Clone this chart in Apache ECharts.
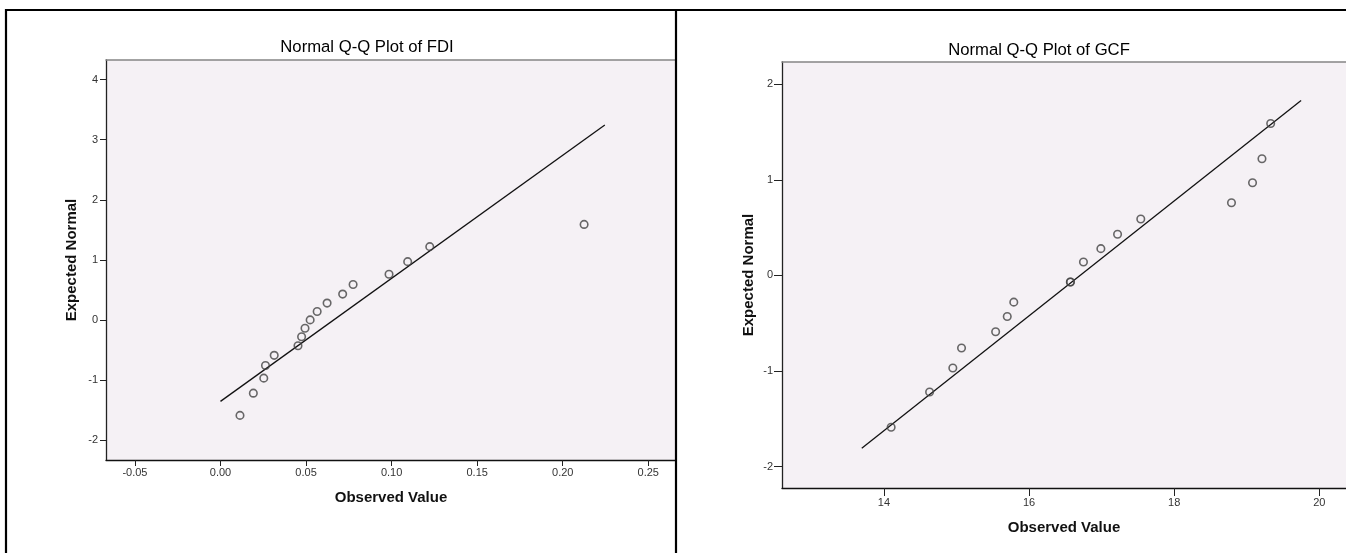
<!DOCTYPE html>
<html><head><meta charset="utf-8">
<script src="https://cdn.jsdelivr.net/npm/echarts@6/dist/echarts.min.js"></script>
<style>html,body{margin:0;padding:0;background:#fff}#c{width:1346px;height:553px}</style>
</head><body><div id="c"></div>
<script>
// ---- data ----
const fdiObserved = [0.0114, 0.0192, 0.0253, 0.0263, 0.0314, 0.0453, 0.0474, 0.0494, 0.0524, 0.0565, 0.0623, 0.0714, 0.0775, 0.0985, 0.1094, 0.1223, 0.2125];
const fdiExpected = [-1.59, -1.22, -0.97, -0.76, -0.59, -0.43, -0.28, -0.14, 0.00, 0.14, 0.28, 0.43, 0.59, 0.76, 0.97, 1.22, 1.59];
const fdiLineX = [0.000, 0.2246];
const fdiLineY = [-1.357, 3.247];
const fdiXTicks = [-0.05, 0.00, 0.05, 0.10, 0.15, 0.20, 0.25];
const fdiYTicks = [-2, -1, 0, 1, 2, 3, 4];

const gcfObserved = [14.10, 14.63, 14.95, 15.07, 15.54, 15.70, 15.79, 16.57, 16.57, 16.75, 16.99, 17.22, 17.54, 18.79, 19.08, 19.21, 19.33];
const gcfExpected = [-1.59, -1.22, -0.97, -0.76, -0.59, -0.43, -0.28, -0.07, -0.07, 0.14, 0.28, 0.43, 0.59, 0.76, 0.97, 1.22, 1.59];
const gcfLineX = [13.695, 19.749];
const gcfLineY = [-1.808, 1.829];
const gcfXTicks = [14, 16, 18, 20];
const gcfYTicks = [-2, -1, 0, 1, 2];

const chartTitles = ['Normal Q-Q Plot of FDI', 'Normal Q-Q Plot of GCF'];
const xAxisName = 'Observed Value';
const yAxisName = 'Expected Normal';

// ---- chart ----
const FONT = '"Liberation Sans", Arial, sans-serif';
const pairs = (xs, ys) => xs.map((x, i) => [x, ys[i]]);

function bottomAxis(grid, min, max, ticks, fmt, tickLen, margin, nameGap) {
  return {
    type: 'value', gridIndex: grid, position: 'bottom', min: min, max: max,
    name: xAxisName, nameLocation: 'middle', nameGap: nameGap,
    nameTextStyle: {fontFamily: FONT, fontSize: 15, fontWeight: 'bold', color: '#111'},
    axisLine: {show: true, onZero: false, lineStyle: {color: '#111', width: 1.3}},
    axisTick: {show: true, length: tickLen, customValues: ticks, lineStyle: {color: '#222', width: 1}},
    axisLabel: {show: true, customValues: ticks, margin: margin, formatter: fmt,
      fontFamily: FONT, fontSize: 11, color: '#333'},
    splitLine: {show: false}
  };
}
function topBorder(grid, min, max) {
  return {
    type: 'value', gridIndex: grid, position: 'top', min: min, max: max,
    axisLine: {show: true, onZero: false, lineStyle: {color: '#858585', width: 1.6}},
    axisTick: {show: false}, axisLabel: {show: false}, splitLine: {show: false}
  };
}
function leftAxis(grid, min, max, ticks, tickLen, margin, nameGap) {
  return {
    type: 'value', gridIndex: grid, position: 'left', min: min, max: max,
    name: yAxisName, nameLocation: 'middle', nameGap: nameGap,
    nameTextStyle: {fontFamily: FONT, fontSize: 15, fontWeight: 'bold', color: '#111'},
    axisLine: {show: true, onZero: false, lineStyle: {color: '#222', width: 1.3}},
    axisTick: {show: true, length: tickLen, customValues: ticks, lineStyle: {color: '#222', width: 1}},
    axisLabel: {show: true, customValues: ticks, margin: margin, formatter: v => String(Math.round(v)),
      fontFamily: FONT, fontSize: 11, color: '#333'},
    splitLine: {show: false}
  };
}

const pointStyle = {color: 'rgba(0,0,0,0)', borderColor: '#444444', borderWidth: 1.6};

const option = {
  animation: false,
  backgroundColor: '#ffffff',
  title: [
    {text: chartTitles[0], left: 367, top: 39, textAlign: 'center', padding: 0,
     textStyle: {fontFamily: FONT, fontSize: 16.7, fontWeight: 'normal', color: '#000'}},
    {text: chartTitles[1], left: 1039, top: 42, textAlign: 'center', padding: 0,
     textStyle: {fontFamily: FONT, fontSize: 16.7, fontWeight: 'normal', color: '#000'}}
  ],
  grid: [
    {left: 106, top: 60, width: 570, height: 400, show: true, backgroundColor: '#f5f1f5', borderWidth: 0},
    {left: 782, top: 62, width: 564, height: 426, show: true, backgroundColor: '#f5f1f5', borderWidth: 0}
  ],
  xAxis: [
    bottomAxis(0, -0.0669, 0.2662, fdiXTicks, v => v.toFixed(2), 6, 7, 30),
    topBorder(0, -0.0669, 0.2662),
    bottomAxis(1, 12.596, 20.368, gcfXTicks, v => String(Math.round(v)), 8, 9, 32),
    topBorder(1, 12.596, 20.368)
  ],
  yAxis: [
    leftAxis(0, -2.333, 4.328, fdiYTicks, 6, 8, 27),
    leftAxis(1, -2.225, 2.233, gcfYTicks, 8, 9, 26)
  ],
  series: [
    {type: 'line', xAxisIndex: 0, yAxisIndex: 0, data: pairs(fdiLineX, fdiLineY),
     symbol: 'none', lineStyle: {color: '#111', width: 1.3}, silent: true, z: 2},
    {type: 'scatter', xAxisIndex: 0, yAxisIndex: 0, data: pairs(fdiObserved, fdiExpected),
     symbol: 'circle', symbolSize: 7.5, itemStyle: pointStyle, z: 3},
    {type: 'line', xAxisIndex: 2, yAxisIndex: 1, data: pairs(gcfLineX, gcfLineY),
     symbol: 'none', lineStyle: {color: '#111', width: 1.3}, silent: true, z: 2},
    {type: 'scatter', xAxisIndex: 2, yAxisIndex: 1, data: pairs(gcfObserved, gcfExpected),
     symbol: 'circle', symbolSize: 7.5, itemStyle: pointStyle, z: 3}
  ],
  graphic: [
    {type: 'line', shape: {x1: 5, y1: 10, x2: 1346, y2: 10}, style: {stroke: '#000', lineWidth: 2.2}, z: 100},
    {type: 'line', shape: {x1: 6, y1: 9, x2: 6, y2: 553}, style: {stroke: '#000', lineWidth: 2.2}, z: 100},
    {type: 'line', shape: {x1: 676, y1: 9, x2: 676, y2: 553}, style: {stroke: '#000', lineWidth: 2.2}, z: 100}
  ]
};

const chart = echarts.init(document.getElementById('c'), null, {renderer: 'canvas'});
chart.setOption(option);
</script>
</body></html>
